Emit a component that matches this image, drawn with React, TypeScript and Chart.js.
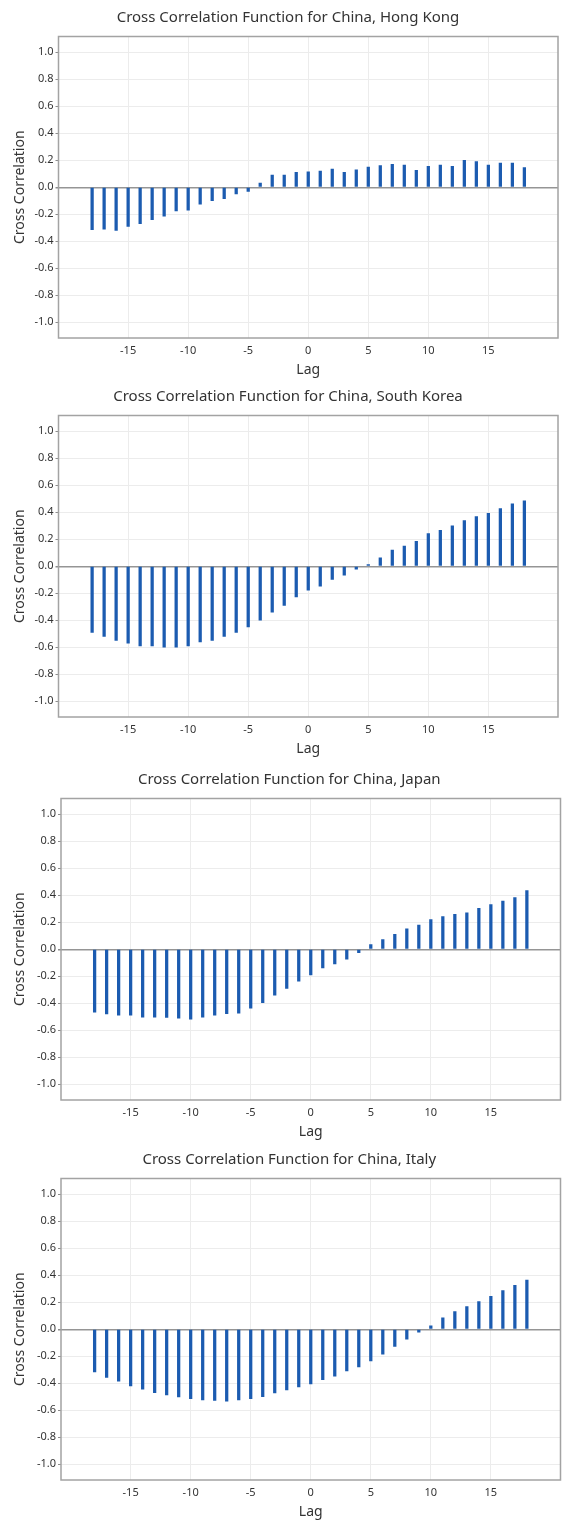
import React, { useEffect, useRef } from "react";
import { Chart, registerables } from "chart.js";

Chart.register(...registerables);

// ---- data ----
const lags = [-18, -17, -16, -15, -14, -13, -12, -11, -10, -9, -8, -7, -6, -5, -4, -3, -2, -1, 0, 1, 2, 3, 4, 5, 6, 7, 8, 9, 10, 11, 12, 13, 14, 15, 16, 17, 18];

const hongKong = [-0.315, -0.31, -0.32, -0.29, -0.27, -0.24, -0.215, -0.175, -0.17, -0.125, -0.1, -0.085, -0.05, -0.03, 0.03, 0.09, 0.09, 0.11, 0.115, 0.12, 0.135, 0.11, 0.13, 0.15, 0.16, 0.17, 0.165, 0.125, 0.155, 0.165, 0.155, 0.2, 0.19, 0.165, 0.18, 0.18, 0.145];

const southKorea = [-0.49, -0.52, -0.55, -0.57, -0.59, -0.59, -0.6, -0.6, -0.59, -0.56, -0.55, -0.52, -0.49, -0.45, -0.4, -0.34, -0.29, -0.227, -0.178, -0.148, -0.097, -0.067, -0.022, 0.012, 0.062, 0.119, 0.15, 0.185, 0.242, 0.267, 0.299, 0.338, 0.368, 0.393, 0.427, 0.462, 0.484];

const japan = [-0.467, -0.479, -0.489, -0.489, -0.504, -0.504, -0.506, -0.511, -0.519, -0.504, -0.489, -0.477, -0.474, -0.437, -0.395, -0.341, -0.291, -0.237, -0.19, -0.138, -0.109, -0.074, -0.025, 0.035, 0.072, 0.111, 0.151, 0.18, 0.22, 0.242, 0.259, 0.269, 0.304, 0.331, 0.356, 0.383, 0.435];

const italy = [-0.316, -0.356, -0.385, -0.42, -0.444, -0.469, -0.486, -0.501, -0.514, -0.523, -0.528, -0.533, -0.523, -0.514, -0.499, -0.472, -0.449, -0.427, -0.405, -0.373, -0.348, -0.309, -0.279, -0.235, -0.185, -0.128, -0.074, -0.022, 0.025, 0.084, 0.131, 0.168, 0.205, 0.244, 0.286, 0.326, 0.365];

const partnerNames = ["Hong Kong", "South Korea", "Japan", "Italy"];
const partnerValues = [hongKong, southKorea, japan, italy];

const xTickValues = [-15, -10, -5, 0, 5, 10, 15];
const yTickValues = [-1.0, -0.8, -0.6, -0.4, -0.2, 0.0, 0.2, 0.4, 0.6, 0.8, 1.0];

// ---- layout (not data) ----
const CANVAS_W = 565;
const CANVAS_H = 380;
const panelTops = [0, 379, 762, 1142];
const panelLeft = [58.5, 58.5, 61, 61];
const panelRight = [558, 558, 560.5, 560.5];
const PAD_LEFT = 18;
const X_MIN = -20.8;
const X_MAX = 20.8;
const Y_MIN = -1.117;
const Y_MAX = 1.117;
const PLOT_BOTTOM = 338;

const FONT = "'Noto Sans', 'Open Sans', 'DejaVu Sans', sans-serif";
const TEXT = "#333333";
const BAR = "#1b5bb0";

const framePlugin = {
  id: "frameBox",
  afterDatasetsDraw(chart: any) {
    const { ctx, chartArea: a } = chart;
    ctx.save();
    ctx.strokeStyle = "#a3a3a3";
    ctx.lineWidth = 1.5;
    ctx.strokeRect(a.left, a.top, a.right - a.left, a.bottom - a.top);
    ctx.restore();
  },
};

function CCFPanel({ index }: { index: number }) {
  const ref = useRef<HTMLCanvasElement | null>(null);
  useEffect(() => {
    const canvas = ref.current;
    if (!canvas) return;
    const values = partnerValues[index];
    const left = panelLeft[index];
    const right = panelRight[index];
    const chart = new Chart(canvas, {
      type: "bar",
      data: {
        datasets: [
          {
            data: lags.map((l, i) => ({ x: l, y: values[i] })),
            backgroundColor: BAR,
            borderWidth: 0,
            barThickness: 2.6,
          } as any,
        ],
      },
      options: {
        responsive: false,
        animation: false,
        devicePixelRatio: 1,
        layout: { padding: { left: PAD_LEFT, right: CANVAS_W - right, top: 0, bottom: 0 } },
        plugins: {
          legend: { display: false },
          tooltip: { enabled: false },
          title: {
            display: true,
            text: "Cross Correlation Function for China, " + partnerNames[index],
            color: TEXT,
            font: { family: FONT, size: 15, weight: "normal" as any, lineHeight: 1.2 },
            padding: { top: 9, bottom: 9.5 },
          },
        },
        scales: {
          x: {
            type: "linear",
            min: X_MIN,
            max: X_MAX,
            offset: false,
            afterBuildTicks: (scale: any) => {
              scale.ticks = xTickValues.map((v) => ({ value: v }));
            },
            afterFit: (scale: any) => {
              scale.height = CANVAS_H - PLOT_BOTTOM;
            },
            grid: {
              offset: false,
              color: "#ececec",
              lineWidth: 1,
              drawTicks: false,
            },
            border: { display: false },
            ticks: {
              autoSkip: false,
              maxRotation: 0,
              color: TEXT,
              padding: 6,
              font: { family: FONT, size: 11 },
              callback: (v: any) => String(v),
            },
            title: {
              display: true,
              text: "Lag",
              color: TEXT,
              font: { family: FONT, size: 14, lineHeight: 1.2 },
              padding: { top: 0, bottom: 2 },
            },
          },
          y: {
            type: "linear",
            min: Y_MIN,
            max: Y_MAX,
            afterBuildTicks: (scale: any) => {
              scale.ticks = yTickValues.map((v) => ({ value: v }));
            },
            afterFit: (scale: any) => {
              scale.width = left - PAD_LEFT;
            },
            grid: {
              color: (c: any) => (c.tick && Math.abs(c.tick.value) < 1e-9 ? "#959595" : "#ececec"),
              lineWidth: (c: any) => (c.tick && Math.abs(c.tick.value) < 1e-9 ? 1.5 : 1),
              tickColor: "#8c8c8c",
              tickLength: 3,
            },
            border: { display: false },
            ticks: {
              color: TEXT,
              padding: 2,
              font: { family: FONT, size: 11 },
              callback: (v: any) => Number(v).toFixed(1),
            },
            title: {
              display: true,
              text: "Cross Correlation",
              color: TEXT,
              font: { family: FONT, size: 14, lineHeight: 1.2 },
              padding: { top: -6, bottom: 0 },
            },
          },
        },
      },
      plugins: [framePlugin],
    } as any);
    return () => chart.destroy();
  }, [index]);
  return (
    <canvas
      ref={ref}
      width={CANVAS_W}
      height={CANVAS_H}
      style={{ position: "absolute", left: 0, top: panelTops[index], width: CANVAS_W, height: CANVAS_H, display: "block" }}
    />
  );
}

export default function App() {
  useEffect(() => {
    document.body.style.margin = "0";
    document.body.style.background = "#ffffff";
  }, []);
  return (
    <div style={{ position: "relative", width: CANVAS_W, height: 1530, background: "#ffffff" }}>
      {partnerNames.map((_, i) => (
        <CCFPanel key={i} index={i} />
      ))}
    </div>
  );
}
